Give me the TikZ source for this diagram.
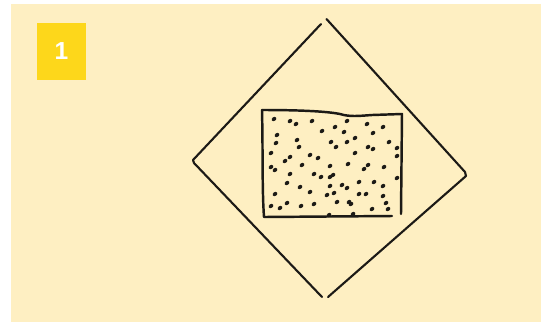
\documentclass[tikz,border=0pt]{standalone}
\usepackage{xcolor}
\usepackage{fontspec}
\usepackage{tikz}
\usetikzlibrary{positioning}

\newfontfamily\badgefont{Liberation Sans}
\definecolor{paper}{HTML}{FEEFC2}
\definecolor{badgeyellow}{HTML}{FDD71B}
\definecolor{inkblack}{HTML}{1C1A16}

\begin{document}
\begin{tikzpicture}[
    x=0.02cm, y=-0.02cm,
    ink/.style={draw=inkblack, line width=1.2pt, line cap=round, line join=round},
    badge/.style={rectangle, fill=badgeyellow, inner sep=0pt, minimum width=0.98cm, minimum height=1.14cm, text=white, font=\badgefont\bfseries\fontsize{14}{16}\selectfont},
    speck/.style={fill=inkblack}
]
% page and paper
\useasboundingbox (0,0) rectangle (541,322);
\fill[white] (0,0) rectangle (541,322);
\fill[paper] (11,4) rectangle (541,322);

% step number
\node[badge] (num) at (61.5,51.5) {1};

% the tilted square
\draw[ink] (326.5,19) -- (465,172) -- (466,176) -- (328,297);
\draw[ink] (321,24) -- (193,160) -- (194,163) -- (322,297);

% the box with the grains
\draw[ink, line width=1.4pt] (262,110) .. controls (263,150) and (262,190) .. (264,217) -- (392,216);
\draw[ink, line width=1.4pt] (262,110) .. controls (295,110) and (325,111) .. (340,114)
    .. controls (350,117) and (358,116) .. (372,115) -- (402,114) -- (401,214);
\foreach \px/\py in {274/119, 290/121, 296/124, 312/121, 322/131, 277/135, 297/140,
    276/143, 299/147, 331/142, 271/153, 290/157, 285/161, 310/155, 318/158,
    347/121, 335/127, 367/124, 383/127, 344/132, 373/133, 355/138, 347/142,
    389/142, 336/147, 368/147, 373/149, 397/148, 355/153, 397/156,
    271/167, 275/170, 302/165, 330/166, 290/174, 314/174, 321/177, 330/177,
    287/183, 300/187, 330/186, 275/194, 310/192, 327/195, 271/206, 280/208,
    287/203, 301/206, 314/204, 329/215,
    348/164, 368/165, 364/169, 384/167, 333/175, 397/178, 342/185, 347/188,
    359/182, 374/182, 383/186, 334/193, 359/194, 366/194, 383/196, 337/202,
    349/202, 351/204, 386/203, 388/209, 372/209, 353/214}
    \fill[speck, rotate around={35:(\px,\py)}] (\px,\py) ellipse (1.45pt and 1.1pt);
\end{tikzpicture}
\end{document}
